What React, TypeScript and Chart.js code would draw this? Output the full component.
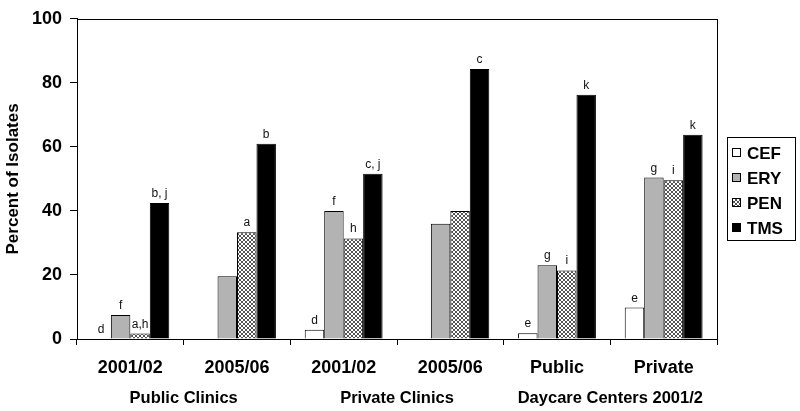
import { useEffect, useRef } from 'react';
import { Chart, registerables } from 'chart.js';

Chart.register(...registerables);

const categories = ['2001/02', '2005/06', '2001/02', '2005/06', 'Public', 'Private'];
const groupLabels = ['Public Clinics', 'Private Clinics', 'Daycare Centers 2001/2'];
const groupSpans = [[0, 1], [2, 3], [4, 5]];
const seriesNames = ['CEF', 'ERY', 'PEN', 'TMS'];
const cefValues = [0, 0, 2.9, 0, 1.8, 9.8];
const eryValues = [7.5, 19.6, 40, 36, 23, 50.4];
const penValues = [1.7, 33.3, 31.4, 40, 21.4, 49.6];
const tmsValues = [42.5, 61, 51.6, 84.3, 76.3, 63.8];
const cefLetters = ['d', '', 'd', '', 'e', 'e'];
const eryLetters = ['f', '', 'f', '', 'g', 'g'];
const penLetters = ['a,h', 'a', 'h', '', 'i', 'i'];
const tmsLetters = ['b, j', 'b', 'c, j', 'c', 'k', 'k'];
const yTicks = [0, 20, 40, 60, 80, 100];

const FONT = '"Liberation Sans", Arial, Helvetica, sans-serif';

function makeHatch(): CanvasPattern | string {
  const c = document.createElement('canvas');
  c.width = 4;
  c.height = 4;
  const g = c.getContext('2d');
  if (!g) return '#ccc';
  g.fillStyle = '#ffffff';
  g.fillRect(0, 0, 4, 4);
  g.fillStyle = '#555555';
  for (let i = 0; i < 4; i++) {
    g.fillRect(i, i, 1, 1);
    g.fillRect(3 - i, i, 1, 1);
  }
  const p = g.createPattern(c, 'repeat');
  return p || '#ccc';
}

export default function App() {
  const ref = useRef<HTMLCanvasElement | null>(null);

  useEffect(() => {
    if (!ref.current) return;
    const hatch = makeHatch();
    const letters = [cefLetters, eryLetters, penLetters, tmsLetters];
    const fills: any[] = ['#ffffff', '#b3b3b3', hatch, '#000000'];

    const decor = {
      id: 'decor',
      afterDatasetsDraw(chart: any) {
        const ctx = chart.ctx;
        const a = chart.chartArea;
        ctx.save();
        // frame
        ctx.strokeStyle = '#000';
        ctx.lineWidth = 1;
        ctx.strokeRect(Math.round(a.left) + 0.5, Math.round(a.top) + 0.5, Math.round(a.right - a.left), Math.round(a.bottom - a.top));
        // letters above bars
        ctx.fillStyle = '#111';
        ctx.font = `12px ${FONT}`;
        ctx.textAlign = 'center';
        ctx.textBaseline = 'alphabetic';
        chart.data.datasets.forEach((ds: any, di: number) => {
          const meta = chart.getDatasetMeta(di);
          meta.data.forEach((el: any, i: number) => {
            const t = letters[di][i];
            if (t) ctx.fillText(t, el.x, el.y - 6);
          });
        });
        // group labels
        const xs = chart.scales.x;
        ctx.fillStyle = '#000';
        ctx.font = `bold 16.5px ${FONT}`;
        ctx.textBaseline = 'middle';
        groupSpans.forEach((s, gi) => {
          const cx = (xs.getPixelForValue(s[0]) + xs.getPixelForValue(s[1])) / 2;
          ctx.fillText(groupLabels[gi], cx, 398);
        });
        // legend
        const lx = 727, ly = 137, lw = 68, lh = 103;
        ctx.strokeRect(lx + 0.5, ly + 0.5, lw, lh);
        ctx.font = `bold 17px ${FONT}`;
        ctx.textAlign = 'left';
        chart.data.datasets.forEach((ds: any, di: number) => {
          const cy = 153 + di * 25;
          ctx.fillStyle = ds.backgroundColor;
          ctx.fillRect(732, cy - 5, 9, 9);
          ctx.strokeStyle = '#000';
          ctx.strokeRect(732.5, cy - 4.5, 8, 8);
          ctx.fillStyle = '#000';
          ctx.fillText(ds.label, 747, cy + 1);
        });
        ctx.restore();
      },
    };

    const chart = new Chart(ref.current, {
      type: 'bar',
      data: {
        labels: categories,
        datasets: [cefValues, eryValues, penValues, tmsValues].map((vals, di) => ({
          label: seriesNames[di],
          data: vals,
          backgroundColor: fills[di],
          borderColor: '#000',
          borderWidth: 1,
          barPercentage: 1,
          categoryPercentage: 0.73,
        })),
      },
      options: {
        animation: false,
        responsive: false,
        layout: { padding: { top: 13, right: 83, left: 0, bottom: 0 } },
        plugins: { legend: { display: false }, tooltip: { enabled: false } },
        scales: {
          x: {
            grid: { display: true, drawOnChartArea: false, offset: true, tickLength: 6, color: '#000' },
            border: { display: true, color: '#000' },
            ticks: { color: '#000', font: { family: FONT, size: 18, weight: 'bold' }, padding: 12, maxRotation: 0 },
            afterFit: (s: any) => { s.height = 72; },
          },
          y: {
            min: 0,
            max: 100,
            afterBuildTicks: (s: any) => { s.ticks = yTicks.map((v) => ({ value: v })); },
            grid: { display: true, drawOnChartArea: false, tickLength: 7, color: '#000' },
            border: { display: true, color: '#000' },
            ticks: { color: '#000', font: { family: FONT, size: 18, weight: 'bold' }, padding: 8 },
            title: { display: true, text: 'Percent of Isolates', color: '#000', font: { family: FONT, size: 17, weight: 'bold' }, padding: { top: 3, bottom: 0 } },
            afterFit: (s: any) => { s.width = 77; },
          },
        },
      },
      plugins: [decor],
    } as any);
    return () => chart.destroy();
  }, []);

  return (
    <div style={{ position: 'fixed', left: 0, top: 0, width: 800, height: 411, background: '#fff' }}>
      <canvas ref={ref} width={800} height={411} style={{ display: 'block' }} />
    </div>
  );
}
